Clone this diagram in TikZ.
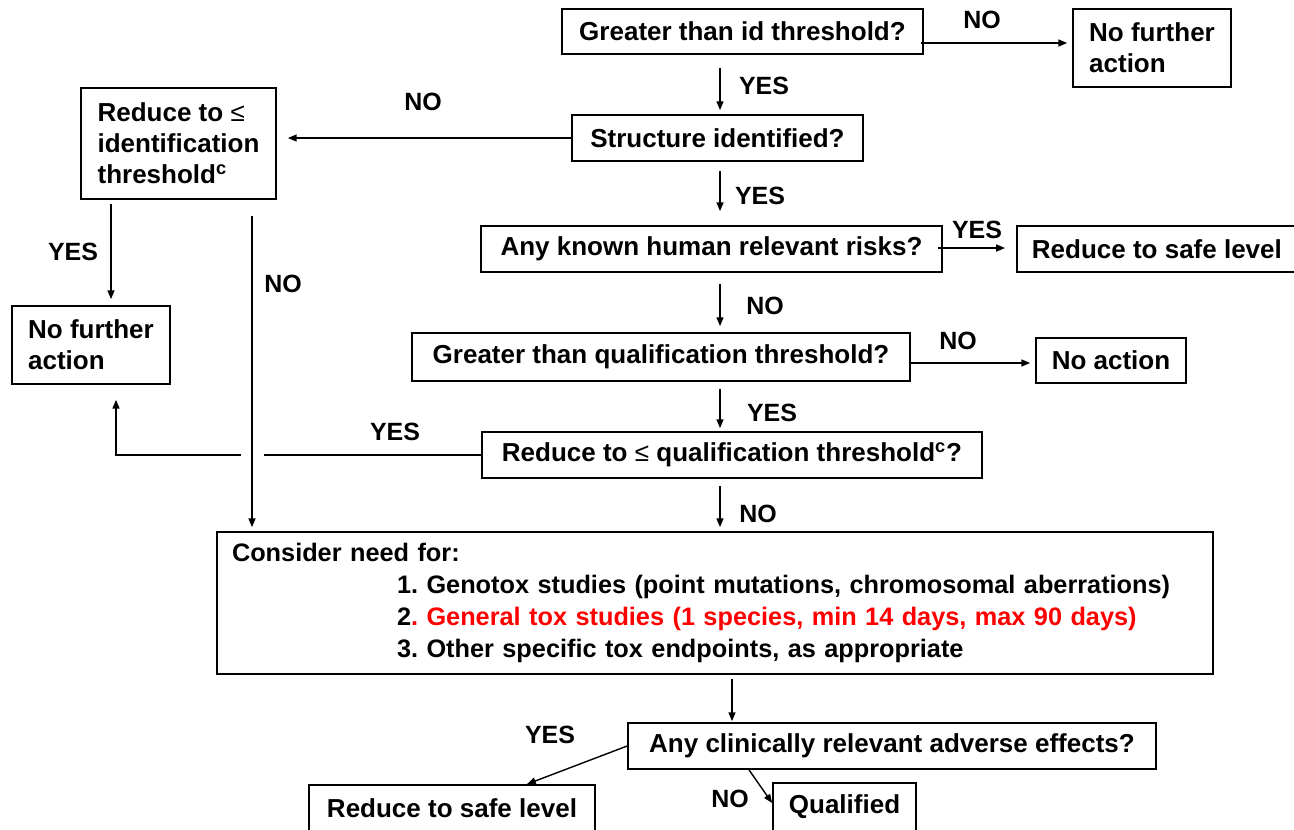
\documentclass[tikz,border=0pt]{standalone}
\usepackage{fontspec}
\setmainfont{Liberation Sans}
\usetikzlibrary{arrows.meta,calc}
\newlength\pxl \setlength\pxl{0.02cm}
\newcommand\boxfont{\fontsize{14.8pt}{17.6pt}\selectfont\bfseries}
\newcommand\confont{\fontsize{14.4pt}{18.1pt}\selectfont\bfseries\frenchspacing}
\newcommand\lblfont{\fontsize{14.2pt}{17pt}\selectfont\bfseries}
\begin{document}
\frenchspacing
\begin{tikzpicture}[x=0.02cm,y=-0.02cm,
  box/.style={draw, line width=1pt, inner sep=0pt, font=\boxfont},
  lbl/.style={font=\lblfont, inner sep=0pt},
  arr/.style={line width=0.8pt, -{Triangle[length=5pt,width=4pt]}},
  ln/.style={line width=0.8pt}]
\useasboundingbox (0,0) rectangle (1294,829);
\clip (0,0) rectangle (1294,829);

% boxes
\node[box, minimum width=361\pxl, minimum height=45\pxl] (g1) at (742.5,31.5) {Greater than id threshold?};
\node[box, align=left, minimum width=158\pxl, minimum height=78\pxl] (nfa1) at (1152,48) {No further\\action};
\node[box, minimum width=291\pxl, minimum height=46\pxl] (si) at (717.5,138) {Structure identified?};
\node[box, align=left, minimum width=195\pxl, minimum height=111\pxl] (rid) at (178.5,143.5) {Reduce to \textmd{≤}\\identification\\threshold\textsuperscript{c}};
\node[box, align=left, minimum width=158\pxl, minimum height=78\pxl] (nfa2) at (91,345) {No further\\action};
\node[box, minimum width=461\pxl, minimum height=46\pxl] (akr) at (711.5,249) {Any known human relevant risks?};
\node[box, anchor=west, inner xsep=15\pxl, minimum height=46\pxl] (rsl1) at (1016,249) {Reduce to safe level};
\node[box, minimum width=498\pxl, minimum height=48\pxl] (gqt) at (661,357) {Greater than qualification threshold?};
\node[box, minimum width=150\pxl, minimum height=45\pxl] (na) at (1111,360.5) {No action};
\node[box, minimum width=500\pxl, minimum height=46\pxl] (rqt) at (732,455) {Reduce to \textmd{≤} qualification threshold\textsuperscript{c}?};
\node[box, font=\confont, align=left, text width=966\pxl, inner xsep=15\pxl, minimum height=142\pxl] (con) at (715,603) {Consider need for:\\
\hspace*{165\pxl}1. Genotox studies (point mutations, chromosomal aberrations)\\
\hspace*{165\pxl}2\textcolor{red}{. General tox studies (1 species, min 14 days, max 90 days)}\\
\hspace*{165\pxl}3. Other specific tox endpoints, as appropriate};
\node[box, minimum width=528\pxl, minimum height=46\pxl] (ace) at (892,746) {Any clinically relevant adverse effects?};
\node[box, minimum width=286\pxl, minimum height=46\pxl] (rsl2) at (452,808) {Reduce to safe level};
\node[box, minimum width=143\pxl, minimum height=48\pxl] (qual) at (844.5,807) {Qualified};

% helper coordinates
\coordinate (x720) at (720,0);
\coordinate (x111) at (111,0);
\coordinate (x252) at (252,0);
\coordinate (x732) at (732,0);
\coordinate (x527) at (527,0);
\coordinate (x749) at (749,0);
\coordinate (y43) at (0,43);
\coordinate (y248) at (0,248);
\coordinate (y363) at (0,363);
\coordinate (y803) at (0,803);
\coordinate (j1) at (264,455);
\coordinate (j2) at (241,455);
\coordinate (j3) at (116,455);

% connectors
\draw[arr, shorten <=-3\pxl, shorten >=5\pxl] (g1.east |- y43) -- (nfa1.west |- y43);
\draw[arr, shorten <=13\pxl, shorten >=4\pxl] (g1.south -| x720) -- (si.north -| x720);
\draw[arr, shorten >=11\pxl] (si.west) -- (rid.east |- si.west);
\draw[arr, shorten <=4\pxl, shorten >=6\pxl] (rid.south -| x111) -- (nfa2.north -| x111);
\draw[arr, shorten <=16\pxl, shorten >=4\pxl] (rid.south -| x252) -- (con.north -| x252);
\draw[arr, shorten <=9\pxl, shorten >=14\pxl] (si.south -| x720) -- (akr.north -| x720);
\draw[arr, shorten <=-5\pxl, shorten >=11\pxl] (akr.east |- y248) -- (rsl1.west |- y248);
\draw[arr, shorten <=11\pxl, shorten >=6\pxl] (akr.south -| x720) -- (gqt.north -| x720);
\draw[arr, shorten >=5\pxl] (gqt.east |- y363) -- (na.west |- y363);
\draw[arr, shorten <=7\pxl, shorten >=3\pxl] (gqt.south -| x720) -- (rqt.north -| x720);
\draw[arr, shorten >=15\pxl] (rqt.west) -- (j1) (j2) -- (j3) -- (nfa2.south -| j3);
\draw[arr, shorten <=7\pxl, shorten >=4\pxl] (rqt.south -| x720) -- (con.north -| x720);
\draw[arr, shorten <=4\pxl, shorten >=1\pxl] (con.south -| x732) -- (ace.north -| x732);
\draw[arr] (ace.west) -- (rsl2.north -| x527);
\draw[arr] (ace.south -| x749) -- (qual.west |- y803);

% labels
\node[lbl] (l1) at (982,20) {NO};
\node[lbl] (l2) at (764,86) {YES};
\node[lbl] (l3) at (423,102) {NO};
\node[lbl] (l4) at (73,252) {YES};
\node[lbl] (l5) at (283,284) {NO};
\node[lbl] (l6) at (760,196) {YES};
\node[lbl] (l7) at (977,230) {YES};
\node[lbl] (l8) at (765,306) {NO};
\node[lbl] (l9) at (958,341) {NO};
\node[lbl] (l10) at (772,413) {YES};
\node[lbl] (l11) at (395,432) {YES};
\node[lbl] (l12) at (758,514) {NO};
\node[lbl] (l13) at (550,735) {YES};
\node[lbl] (l14) at (730,799) {NO};
\end{tikzpicture}
\end{document}
